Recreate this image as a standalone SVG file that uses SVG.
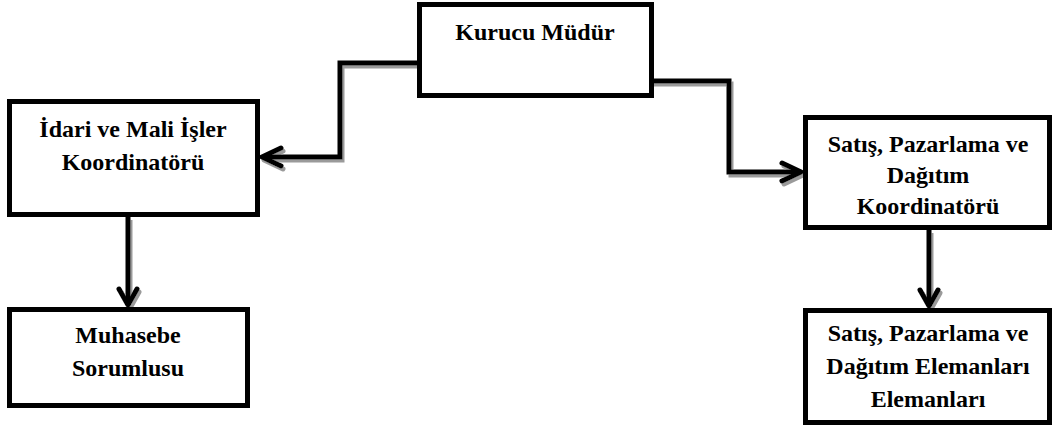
<svg xmlns="http://www.w3.org/2000/svg" width="1054" height="429" viewBox="0 0 1054 429">
<style>
.box{fill:#fff;stroke:#000;stroke-width:5}
.t{font-family:"Liberation Serif","Times New Roman",serif;font-weight:bold;font-size:24px;fill:#000;text-anchor:middle}
.c{fill:none;stroke:#000;stroke-width:5;stroke-linejoin:miter}
.h{fill:none;stroke:#000;stroke-width:5;stroke-linecap:round;stroke-linejoin:round}
</style>
<defs>
<filter id="sh" x="-10%" y="-10%" width="130%" height="130%">
<feOffset in="SourceAlpha" dx="2" dy="3" result="o"/>
<feFlood flood-color="#9a9a9a"/>
<feComposite in2="o" operator="in" result="s"/>
<feMerge><feMergeNode in="s"/><feMergeNode in="SourceGraphic"/></feMerge>
</filter>
</defs>
<g id="connectors" filter="url(#sh)">
<path class="c" d="M419,63 H340 V157 H265"/>
<polyline class="h" points="281,148 262,157 281,166"/>
<path class="c" d="M652,81 H729 V172 H798"/>
<polyline class="h" points="782,163 801,172 782,181"/>
<path class="c" d="M128,217 V302"/>
<polyline class="h" points="119,289 128,305 137,289"/>
<path class="c" d="M929,230 V303"/>
<polyline class="h" points="920,290 929,306 938,290"/>
</g>
<g id="kurucu">
<rect class="box" x="419.5" y="4.5" width="232" height="91"/>
<text class="t" x="535" y="40">Kurucu Müdür</text>
</g>
<g id="idari">
<rect class="box" x="9.5" y="101.5" width="248" height="113"/>
<text class="t" x="133" y="137">İdari ve Mali İşler</text>
<text class="t" x="133" y="170">Koordinatörü</text>
</g>
<g id="satis">
<rect class="box" x="805.5" y="117.5" width="244" height="110"/>
<text class="t" x="928" y="152">Satış, Pazarlama ve</text>
<text class="t" x="928" y="183">Dağıtım</text>
<text class="t" x="928" y="214">Koordinatörü</text>
</g>
<g id="muhasebe">
<rect class="box" x="9.5" y="309.5" width="238" height="96"/>
<text class="t" x="128" y="343">Muhasebe</text>
<text class="t" x="128" y="376">Sorumlusu</text>
</g>
<g id="elemanlar">
<rect class="box" x="805.5" y="310.5" width="244" height="112"/>
<text class="t" x="928" y="341">Satış, Pazarlama ve</text>
<text class="t" x="928" y="374">Dağıtım Elemanları</text>
<text class="t" x="928" y="407">Elemanları</text>
</g>
</svg>
